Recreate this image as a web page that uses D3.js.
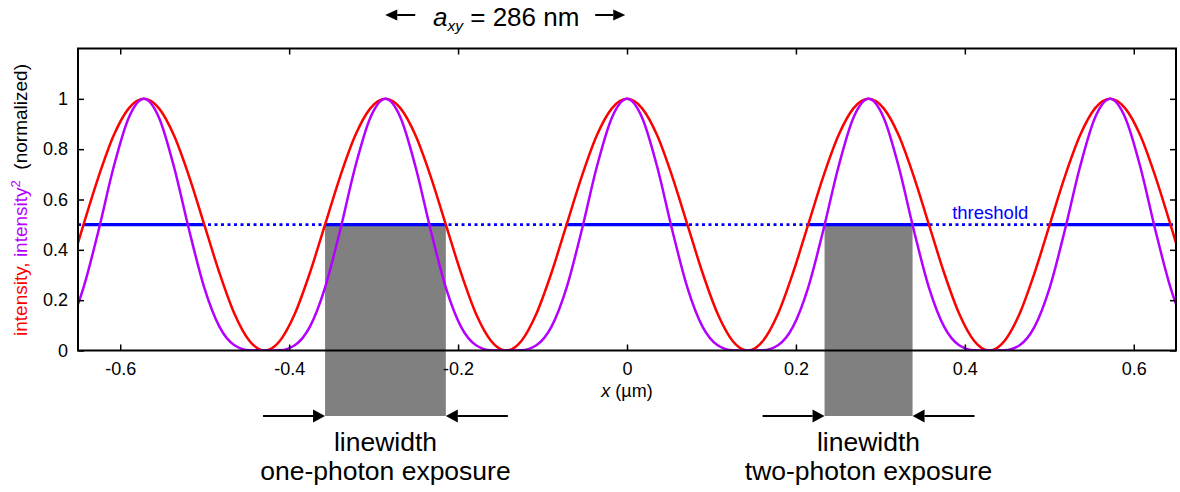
<!DOCTYPE html>
<html>
<head>
<meta charset="utf-8">
<script src="https://cdn.jsdelivr.net/npm/d3@7"></script>
<style>
  body { margin: 0; background: #fff; }
  text { font-family: "Liberation Sans", Arial, sans-serif; }
</style>
</head>
<body>
<div id="chart"></div>
<script>
// positions along x (µm)
const xPos = [
  -0.65,
  -0.6435, -0.6256, -0.6078, -0.5899, -0.572, -0.5541, -0.5363, -0.5184,
  -0.5005, -0.4826, -0.4648, -0.4469, -0.429, -0.4111, -0.3933, -0.3754,
  -0.3575, -0.3396, -0.3218, -0.3039, -0.286, -0.2681, -0.2503, -0.2324,
  -0.2145, -0.1966, -0.1788, -0.1609, -0.143, -0.1251, -0.1073, -0.0894,
  -0.0715, -0.0536, -0.0358, -0.0179, 0,
  0.0179, 0.0358, 0.0536, 0.0715, 0.0894, 0.1073, 0.1251, 0.143,
  0.1609, 0.1788, 0.1966, 0.2145, 0.2324, 0.2503, 0.2681, 0.286,
  0.3039, 0.3218, 0.3396, 0.3575, 0.3754, 0.3933, 0.4111, 0.429,
  0.4469, 0.4648, 0.4826, 0.5005, 0.5184, 0.5363, 0.5541, 0.572,
  0.5899, 0.6078, 0.6256, 0.6435,
  0.65
];

// intensity (red)
const intensity = [
  0.428,
  0.500, 0.691, 0.854, 0.962, 1.000, 0.962, 0.854, 0.691,
  0.500, 0.309, 0.146, 0.038, 0.000, 0.038, 0.146, 0.309,
  0.500, 0.691, 0.854, 0.962, 1.000, 0.962, 0.854, 0.691,
  0.500, 0.309, 0.146, 0.038, 0.000, 0.038, 0.146, 0.309,
  0.500, 0.691, 0.854, 0.962, 1.000,
  0.962, 0.854, 0.691, 0.500, 0.309, 0.146, 0.038, 0.000,
  0.038, 0.146, 0.309, 0.500, 0.691, 0.854, 0.962, 1.000,
  0.962, 0.854, 0.691, 0.500, 0.309, 0.146, 0.038, 0.000,
  0.038, 0.146, 0.309, 0.500, 0.691, 0.854, 0.962, 1.000,
  0.962, 0.854, 0.691, 0.500,
  0.428
];

// intensity squared (purple)
const intensitySq = [
  0.184,
  0.250, 0.478, 0.729, 0.925, 1.000, 0.925, 0.729, 0.478,
  0.250, 0.095, 0.021, 0.001, 0.000, 0.001, 0.021, 0.095,
  0.250, 0.478, 0.729, 0.925, 1.000, 0.925, 0.729, 0.478,
  0.250, 0.095, 0.021, 0.001, 0.000, 0.001, 0.021, 0.095,
  0.250, 0.478, 0.729, 0.925, 1.000,
  0.925, 0.729, 0.478, 0.250, 0.095, 0.021, 0.001, 0.000,
  0.001, 0.021, 0.095, 0.250, 0.478, 0.729, 0.925, 1.000,
  0.925, 0.729, 0.478, 0.250, 0.095, 0.021, 0.001, 0.000,
  0.001, 0.021, 0.095, 0.250, 0.478, 0.729, 0.925, 1.000,
  0.925, 0.729, 0.478, 0.250,
  0.184
];

const threshold = 0.5;
// where the threshold line is drawn solid (intensity above threshold)
const solidSegments = [
  [-0.6435, -0.5005], [-0.3575, -0.2145], [-0.0715, 0.0715],
  [0.2145, 0.3575], [0.5005, 0.6435]
];

// exposed linewidths
const linewidths = [
  { x0: -0.3575, x1: -0.2145, lines: ["linewidth", "one-photon exposure"] },
  { x0: 0.2339, x1: 0.3381, lines: ["linewidth", "two-photon exposure"] }
];

const xTicks = [-0.6, -0.4, -0.2, 0, 0.2, 0.4, 0.6];
const yTicks = [0, 0.2, 0.4, 0.6, 0.8, 1];
const periodSpan = [-0.286, 0]; // a_xy marker sits between these peaks

const W = 1180, H = 492;
const svg = d3.select("#chart").append("svg")
  .attr("width", W).attr("height", H);

const x = d3.scaleLinear().domain([-0.65, 0.65]).range([78, 1176]);
const y = d3.scaleLinear().domain([0, 1.2]).range([350.5, 48.5]);

const fs = 18;

// clip for curves
svg.append("clipPath").attr("id", "plotclip")
  .append("rect")
  .attr("x", x(-0.65)).attr("y", y(1.2))
  .attr("width", x(0.65) - x(-0.65)).attr("height", y(0) - y(1.2));

// grey linewidth bars
const barBottom = 416;
svg.selectAll(".bar").data(linewidths).enter().append("rect")
  .attr("x", d => x(d.x0))
  .attr("y", y(threshold))
  .attr("width", d => x(d.x1) - x(d.x0))
  .attr("height", d => barBottom - y(threshold))
  .attr("fill", "#808080");

// threshold: dotted across, solid where above
const plot = svg.append("g").attr("clip-path", "url(#plotclip)");
plot.append("line")
  .attr("x1", x(-0.65)).attr("x2", x(0.65))
  .attr("y1", y(threshold)).attr("y2", y(threshold))
  .attr("stroke", "#0000ff").attr("stroke-width", 2.8)
  .attr("stroke-dasharray", "3,3.5");
plot.selectAll(".solid").data(solidSegments).enter().append("line")
  .attr("x1", d => x(d[0])).attr("x2", d => x(d[1]))
  .attr("y1", y(threshold)).attr("y2", y(threshold))
  .attr("stroke", "#0000ff").attr("stroke-width", 3.4);

const line = vals => d3.line()
  .x((d, i) => x(xPos[i]))
  .y(d => y(d))
  .curve(d3.curveMonotoneX)(vals);

plot.append("path").attr("d", line(intensity))
  .attr("fill", "none").attr("stroke", "#ff0000").attr("stroke-width", 2.5);
plot.append("path").attr("d", line(intensitySq))
  .attr("fill", "none").attr("stroke", "#b300ff").attr("stroke-width", 2.5);

// threshold label
svg.append("text")
  .attr("x", x(0.385)).attr("y", y(threshold) - 6)
  .attr("fill", "#0000ff").attr("font-size", 18.5)
  .text("threshold");

// axes (inward ticks on all sides)
const styleAxis = g => {
  g.select(".domain").remove();
  g.selectAll(".tick line").attr("stroke", "#000").attr("stroke-width", 1.5);
  g.selectAll(".tick text").attr("font-size", fs).attr("fill", "#000")
    .attr("font-family", "Liberation Sans, Arial, sans-serif");
};
svg.append("g").attr("transform", `translate(0,${y(0)})`)
  .call(d3.axisBottom(x).tickValues(xTicks).tickSize(-6).tickPadding(12)
    .tickFormat(d => d === 0 ? "0" : d3.format(".1f")(d).replace("−", "-")))
  .call(styleAxis);
svg.append("g").attr("transform", `translate(0,${y(1.2)})`)
  .call(d3.axisTop(x).tickValues(xTicks).tickSize(-6).tickFormat(""))
  .call(styleAxis);
svg.append("g").attr("transform", `translate(${x(-0.65)},0)`)
  .call(d3.axisLeft(y).tickValues(yTicks).tickSize(-6).tickPadding(10)
    .tickFormat(d => d === 0 || d === 1 ? String(d) : d3.format(".1f")(d)))
  .call(styleAxis);
svg.append("g").attr("transform", `translate(${x(0.65)},0)`)
  .call(d3.axisRight(y).tickValues(yTicks).tickSize(-6).tickFormat(""))
  .call(styleAxis);

// frame
svg.append("rect")
  .attr("x", x(-0.65)).attr("y", y(1.2))
  .attr("width", x(0.65) - x(-0.65)).attr("height", y(0) - y(1.2))
  .attr("fill", "none").attr("stroke", "#000").attr("stroke-width", 2);

// x label
const xl = svg.append("text")
  .attr("x", x(0)).attr("y", 397)
  .attr("text-anchor", "middle").attr("font-size", fs);
xl.append("tspan").attr("font-style", "italic").text("x");
xl.append("tspan").text(" (µm)");

// y label
const yl = svg.append("text")
  .attr("transform", "translate(27,200) rotate(-90)")
  .attr("text-anchor", "middle").attr("font-size", 19)
  .style("white-space", "pre");
yl.append("tspan").attr("fill", "#ff0000").text("intensity, ");
yl.append("tspan").attr("fill", "#b300ff").text("intensity");
yl.append("tspan").attr("fill", "#b300ff").attr("font-size", 13).attr("dy", -7).text("2");
yl.append("tspan").attr("fill", "#000").attr("dy", 7).text("  (normalized)");

// arrow helper
function arrow(x1, x2, yy, head, half, sw) {
  const dir = Math.sign(x2 - x1);
  svg.append("line")
    .attr("x1", x1).attr("x2", x2 - dir * head)
    .attr("y1", yy).attr("y2", yy)
    .attr("stroke", "#000").attr("stroke-width", sw);
  svg.append("path")
    .attr("d", `M${x2},${yy} L${x2 - dir * head},${yy - half} L${x2 - dir * head},${yy + half} Z`)
    .attr("fill", "#000");
}

// linewidth arrows and captions
const bigFs = 26.5;
linewidths.forEach(d => {
  const a = x(d.x0), b = x(d.x1);
  arrow(a - 62, a, barBottom, 12, 6.5, 2);
  arrow(b + 62, b, barBottom, 12, 6.5, 2);
  const t = svg.append("text")
    .attr("x", (a + b) / 2).attr("y", 451)
    .attr("text-anchor", "middle").attr("font-size", bigFs);
  d.lines.forEach((s, i) => {
    t.append("tspan").attr("x", (a + b) / 2).attr("dy", i === 0 ? 0 : 29).text(s);
  });
});

// period label on top
const cx = x((periodSpan[0] + periodSpan[1]) / 2);
arrow(cx - 91, cx - 121, 15, 12, 5.5, 2);
arrow(cx + 89, cx + 119, 15, 12, 5.5, 2);
const tt = svg.append("text")
  .attr("x", cx).attr("y", 26)
  .attr("text-anchor", "middle").attr("font-size", 26);
tt.append("tspan").attr("font-style", "italic").text("a");
tt.append("tspan").attr("font-style", "italic").attr("font-size", 15.5).attr("dy", 5).text("xy");
tt.append("tspan").attr("dy", -5).text(" = 286 nm");
</script>
</body>
</html>
